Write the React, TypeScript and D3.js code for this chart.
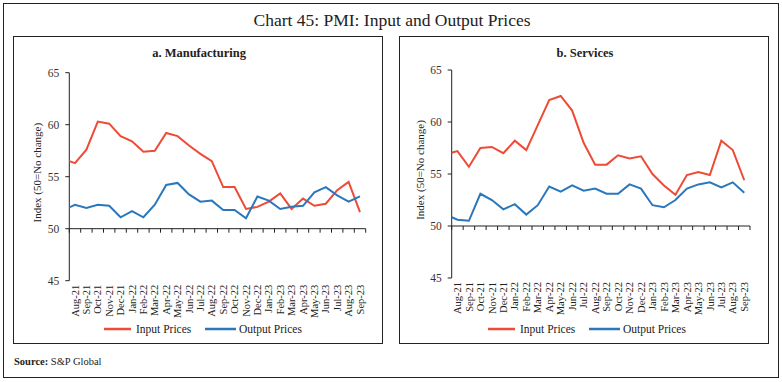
import React from "react";
import * as d3 from "d3";

const months = [
  "Aug-21","Sep-21","Oct-21","Nov-21","Dec-21","Jan-22","Feb-22","Mar-22","Apr-22","May-22",
  "Jun-22","Jul-22","Aug-22","Sep-22","Oct-22","Nov-22","Dec-22","Jan-23","Feb-23","Mar-23",
  "Apr-23","May-23","Jun-23","Jul-23","Aug-23","Sep-23",
];
// value of the month before the first label (Jul-21), only partially visible at the axis
const mfgInputPrev = 56.7;
const mfgOutputPrev = 51.8;
const mfgInput = [
  56.3, 57.6, 60.3, 60.1, 58.9, 58.4, 57.4, 57.5, 59.2, 58.9,
  58.0, 57.2, 56.5, 54.0, 54.0, 51.9, 52.1, 52.6, 53.4, 51.9,
  52.9, 52.2, 52.4, 53.7, 54.5, 51.6,
];
const mfgOutput = [
  52.3, 52.0, 52.3, 52.2, 51.1, 51.7, 51.1, 52.3, 54.2, 54.4,
  53.3, 52.6, 52.7, 51.8, 51.8, 51.0, 53.1, 52.7, 51.9, 52.1,
  52.2, 53.5, 54.0, 53.2, 52.6, 53.1,
];
const svcInputPrev = 56.9;
const svcOutputPrev = 51.1;
const svcInput = [
  57.2, 55.7, 57.5, 57.6, 57.0, 58.2, 57.3, 59.7, 62.1, 62.5,
  61.1, 58.0, 55.9, 55.9, 56.8, 56.5, 56.7, 55.0, 53.9, 53.0,
  54.9, 55.2, 54.9, 58.2, 57.3, 54.4,
];
const svcOutput = [
  50.6, 50.5, 53.1, 52.5, 51.6, 52.1, 51.1, 52.0, 53.8, 53.3,
  53.9, 53.4, 53.6, 53.1, 53.1, 54.0, 53.6, 52.0, 51.8, 52.5,
  53.6, 54.0, 54.2, 53.7, 54.2, 53.2,
];
const yTicks = [45, 50, 55, 60, 65];
const seriesNames = ["Input Prices", "Output Prices"];
const colors = ["#EE4B37", "#2A77BC"];

const FONT = "'Liberation Serif', 'Times New Roman', serif";

type PanelProps = {
  id: string;
  title: string;
  box: [number, number, number, number];
  x0: number; x1: number; yTop: number; yBot: number;
  input: number[]; output: number[]; inputPrev: number; outputPrev: number;
  legendX: number;
};

function Panel(p: PanelProps) {
  const n = months.length;
  const x = d3.scaleLinear().domain([0, n]).range([p.x0, p.x1]);
  const y = d3.scaleLinear().domain([45, 65]).range([p.yBot, p.yTop]);
  const line = d3.line<number>().x((_, i) => x(i - 0.5)).y((v) => y(v));
  const inData = [p.inputPrev, ...p.input];
  const outData = [p.outputPrev, ...p.output];
  const ax = y(50);
  const legY = 329;
  return (
    <g>
      <rect x={p.box[0]} y={p.box[1]} width={p.box[2]} height={p.box[3]} fill="none" stroke="#222" strokeWidth={1} />
      <text x={p.box[0] + p.box[2] / 2 + 1} y={57} textAnchor="middle" fontFamily={FONT} fontWeight="bold" fontSize={12.5} fill="#222">{p.title}</text>
      <clipPath id={p.id}>
        <rect x={p.x0} y={p.yTop - 10} width={p.x1 - p.x0 + 5} height={p.yBot - p.yTop + 20} />
      </clipPath>
      {/* y axis */}
      <line x1={p.x0} x2={p.x0} y1={p.yTop} y2={p.yBot} stroke="#222" strokeWidth={1} />
      {yTicks.map((t) => (
        <g key={t}>
          <line x1={p.x0 - 4} x2={p.x0} y1={y(t)} y2={y(t)} stroke="#222" />
          <text x={p.x0 - 10} y={y(t)} dy="0.35em" textAnchor="end" fontFamily={FONT} fontSize={11.5} fill="#333">{t}</text>
        </g>
      ))}
      <text transform={`translate(${p.x0 - 28},${(y(50) + y(65)) / 2 + 22}) rotate(-90)`} textAnchor="middle" fontFamily={FONT} fontSize={11} fill="#222">Index (50=No change)</text>
      {/* x axis at 50 */}
      <line x1={p.x0} x2={p.x1} y1={ax} y2={ax} stroke="#222" strokeWidth={1} />
      {d3.range(n + 1).map((i) => (
        <line key={i} x1={x(i)} x2={x(i)} y1={ax} y2={ax + 4} stroke="#222" />
      ))}
      {months.map((m, i) => (
        <text key={m} transform={`translate(${x(i + 0.5)},${p.yBot + 4}) rotate(-90)`} dy="0.35em" textAnchor="end" fontFamily={FONT} fontSize={10.5} fill="#222">{m}</text>
      ))}
      <g clipPath={`url(#${p.id})`}>
        <path d={line(inData) || ""} fill="none" stroke={colors[0]} strokeWidth={2} />
        <path d={line(outData) || ""} fill="none" stroke={colors[1]} strokeWidth={2} />
      </g>
      {/* legend */}
      <line x1={p.legendX} x2={p.legendX + 27} y1={legY} y2={legY} stroke={colors[0]} strokeWidth={2.5} />
      <text x={p.legendX + 32} y={legY} dy="0.35em" fontFamily={FONT} fontSize={11.5} fill="#222">{seriesNames[0]}</text>
      <line x1={p.legendX + 101} x2={p.legendX + 132} y1={legY} y2={legY} stroke={colors[1]} strokeWidth={2.5} />
      <text x={p.legendX + 135} y={legY} dy="0.35em" fontFamily={FONT} fontSize={11.5} fill="#222">{seriesNames[1]}</text>
    </g>
  );
}

export default function App() {
  return (
    <div style={{ position: "fixed", left: 0, top: 0 }}>
      <svg width={782} height={382} style={{ display: "block", background: "#fff" }}>
        <rect x={3.5} y={3.5} width={775} height={374} fill="none" stroke="#222" strokeWidth={1} />
        <text x={392} y={26} textAnchor="middle" fontFamily={FONT} fontSize={17.5} fill="#222">Chart 45: PMI: Input and Output Prices</text>
        <Panel id="clipA" title="a. Manufacturing" box={[13.5, 36.5, 369, 307]}
          x0={69.3} x1={365.7} yTop={72.7} yBot={280.7}
          input={mfgInput} output={mfgOutput} inputPrev={mfgInputPrev} outputPrev={mfgOutputPrev}
          legendX={104} />
        <Panel id="clipB" title="b. Services" box={[399.5, 36.5, 369, 307]}
          x0={451.7} x1={750} yTop={70} yBot={278}
          input={svcInput} output={svcOutput} inputPrev={svcInputPrev} outputPrev={svcOutputPrev}
          legendX={488} />
        <text x={14} y={365} fontFamily={FONT} fontSize={10.5} fill="#222">
          <tspan fontWeight="bold">Source:</tspan> S&amp;P Global
        </text>
      </svg>
    </div>
  );
}
